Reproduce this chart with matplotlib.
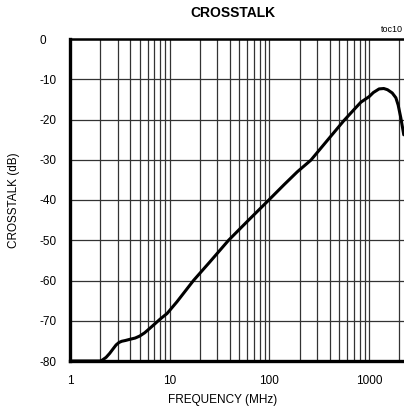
import matplotlib
matplotlib.use("Agg")
import matplotlib.pyplot as plt
from matplotlib.ticker import LogLocator, FixedLocator, NullFormatter

plt.rcParams['font.family'] = ['Liberation Sans', 'DejaVu Sans']

freq_mhz = [1, 1.5, 2.0, 2.1, 2.3, 2.5, 2.7, 2.9, 3.1, 3.3, 3.6, 4.0, 4.5, 5.0, 5.6, 6.3,
            7.0, 8.0, 9.4, 11.8, 17.3, 25, 38.9, 60, 98.5, 140, 190, 260, 380, 556,
            700, 825, 1000, 1100, 1256, 1400, 1525, 1700, 1850, 1950, 2070, 2150, 2220]
crosstalk_db = [-80, -80, -80, -79.8, -79.1, -78.1, -77.0, -76.0, -75.4, -75.1, -74.9,
                -74.6, -74.3, -73.8, -73.0, -71.9, -70.9, -69.6, -68.2, -65.3, -60,
                -55.5, -50, -45.3, -40, -36.2, -33.0, -30.1, -25.2, -20.3, -17.6, -15.7,
                -14.3, -13.3, -12.4, -12.3, -12.6, -13.4, -14.6, -16.4, -19.5, -21.8,
                -23.8]

x_ticks = [1, 10, 100, 1000]
x_tick_labels = ["1", "10", "100", "1000"]
y_ticks = [-80, -70, -60, -50, -40, -30, -20, -10, 0]
y_tick_labels = ["-80", "-70", "-60", "-50", "-40", "-30", "-20", "-10", "0"]

W, H = 404, 412
fig = plt.figure(figsize=(W / 100, H / 100), dpi=100)
ax = fig.add_axes([70 / W, 1 - 361 / H, (W - 70) / W + 0.002, (361 - 39) / H])

ax.plot(freq_mhz, crosstalk_db, color='black', lw=2.2, solid_capstyle='round',
        solid_joinstyle='round', zorder=3)

ax.set_xscale('log')
ax.set_xlim(1, 10 ** ((W - 70) / 99.5))
ax.set_ylim(-80, 0)

ax.xaxis.set_major_locator(FixedLocator(x_ticks))
ax.set_xticklabels(x_tick_labels)
ax.xaxis.set_minor_locator(LogLocator(base=10, subs=range(2, 10), numticks=20))
ax.xaxis.set_minor_formatter(NullFormatter())
ax.set_yticks(y_ticks)
ax.set_yticklabels(y_tick_labels, ha='left')

ax.tick_params(axis='both', which='both', length=0)
ax.tick_params(axis='y', pad=22, labelsize=8.5)
ax.tick_params(axis='x', pad=10, labelsize=8.5)

ax.grid(True, which='both', axis='x', color='#333333', lw=0.9)
ax.grid(True, which='major', axis='y', color='#333333', lw=0.9)

for s in ['left', 'bottom']:
    ax.spines[s].set_linewidth(2.4)
ax.spines['top'].set_linewidth(1.8)
ax.spines['right'].set_visible(False)

ax.set_xlabel('FREQUENCY (MHz)', fontsize=8.5)
ax.xaxis.set_label_coords(0.455, -0.102)
ax.xaxis.label.set_va('top')
ax.set_ylabel('CROSSTALK (dB)', fontsize=8.5)
ax.yaxis.set_label_coords(-(70 - 14) / (W - 70), 0.5)
ax.yaxis.label.set_va('center')

fig.text(232.5 / W, 1 - 13 / H, 'CROSSTALK', ha='center', va='center',
         fontsize=10, fontweight='bold')
fig.text(381 / W, 1 - 29.5 / H, 'toc10', ha='left', va='center', fontsize=6.5)

fig.savefig('out.png', dpi=100)
